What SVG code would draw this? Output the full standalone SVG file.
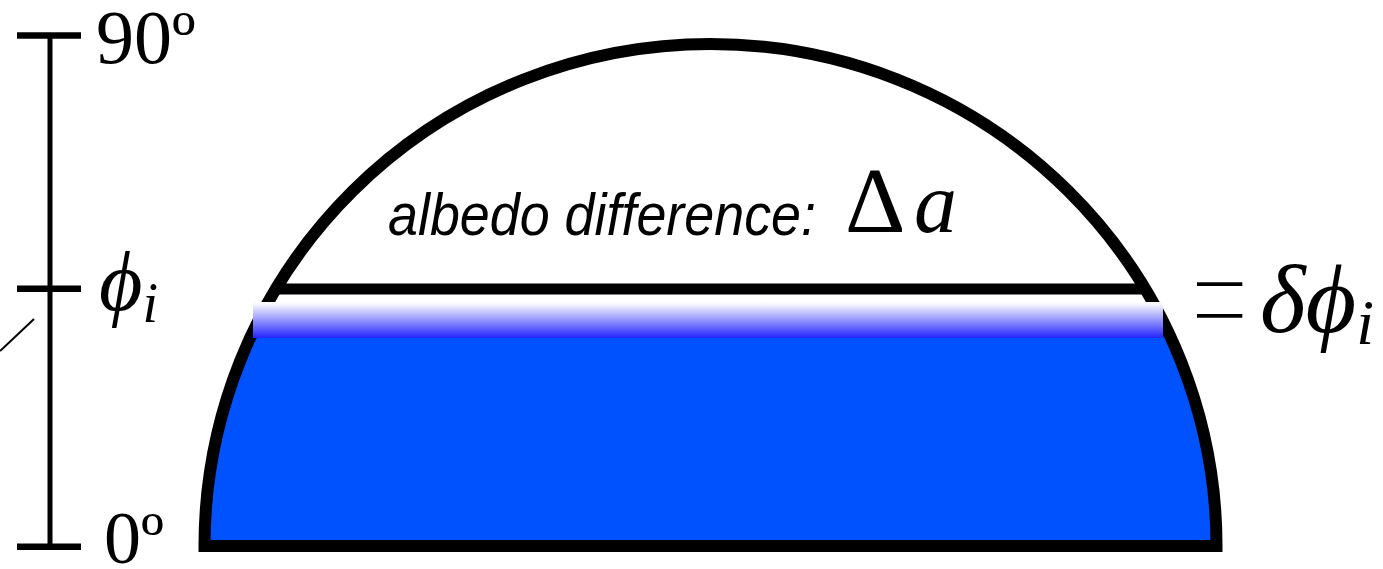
<svg xmlns="http://www.w3.org/2000/svg" width="1383" height="569" viewBox="0 0 1383 569">
  <style>
    .axis { stroke: #000; stroke-width: 5; fill: none; }
    .tick { stroke: #000; stroke-width: 6.5; fill: none; }
    .outline { stroke: #000; stroke-width: 12; fill: none; stroke-linejoin: miter; }
    .serif { font-family: "Liberation Serif", "DejaVu Serif", serif; fill: #000; }
    .math { font-family: "Liberation Serif", "DejaVu Serif", serif; font-style: italic; fill: #000; }
    .label { font-family: "Liberation Sans", Arial, sans-serif; font-style: italic; fill: #000; }
    .eq { font-family: Inter, "Noto Sans", sans-serif; font-weight: 100; fill: #000; }
  </style>
  <defs>
    <linearGradient id="band" x1="0" y1="0" x2="0" y2="1">
      <stop offset="0" stop-color="#ffffff"/>
      <stop offset="0.08" stop-color="#f4f4ff"/>
      <stop offset="1" stop-color="#2424ff"/>
    </linearGradient>
    <clipPath id="lower">
      <rect x="0" y="303" width="1383" height="266"/>
    </clipPath>
  </defs>
  <rect width="1383" height="569" fill="#ffffff"/>

  <g id="axis">
    <line class="axis" x1="50" y1="35.5" x2="50" y2="546.5"/>
    <line class="tick" x1="17" y1="35.5" x2="81" y2="35.5"/>
    <line class="tick" x1="17" y1="288.7" x2="81" y2="288.7"/>
    <line class="tick" x1="17" y1="546.7" x2="81" y2="546.7"/>
    <line x1="0" y1="351" x2="34" y2="319" stroke="#000" stroke-width="2"/>
    <text class="serif" x="96" y="63" font-size="76">90º</text>
    <text class="serif" x="104" y="563" font-size="74">0º</text>
    <text class="math" x="99" y="310" font-size="84">ϕ<tspan font-size="56" dy="12">i</tspan></text>
  </g>

  <g id="dome">
    <path d="M 204.5 546 A 506 502 0 0 1 1216.5 546 Z" fill="#0052ff" clip-path="url(#lower)"/>
    <path class="outline" d="M 204.5 546 A 506 502 0 0 1 1216.5 546 Z"/>
    <line x1="275" y1="289" x2="1146" y2="289" stroke="#000" stroke-width="11"/>
    <rect x="253" y="302" width="910" height="36" fill="url(#band)"/>
  </g>

  <g id="albedo-label">
    <text class="label" x="388" y="235" font-size="60" textLength="428" lengthAdjust="spacingAndGlyphs">albedo difference:</text>
    <text class="serif" x="845" y="232" font-size="94">Δ</text>
    <text class="math" x="914" y="232" font-size="86">a</text>
  </g>

  <g id="delta-label">
    <text class="eq" x="1177" y="200" font-size="134" transform="translate(0,101.1) scale(1,1.23)">=</text>
    <text class="math" x="1260" y="332" font-size="98">δϕ<tspan font-size="64" dy="12">i</tspan></text>
  </g>
</svg>
